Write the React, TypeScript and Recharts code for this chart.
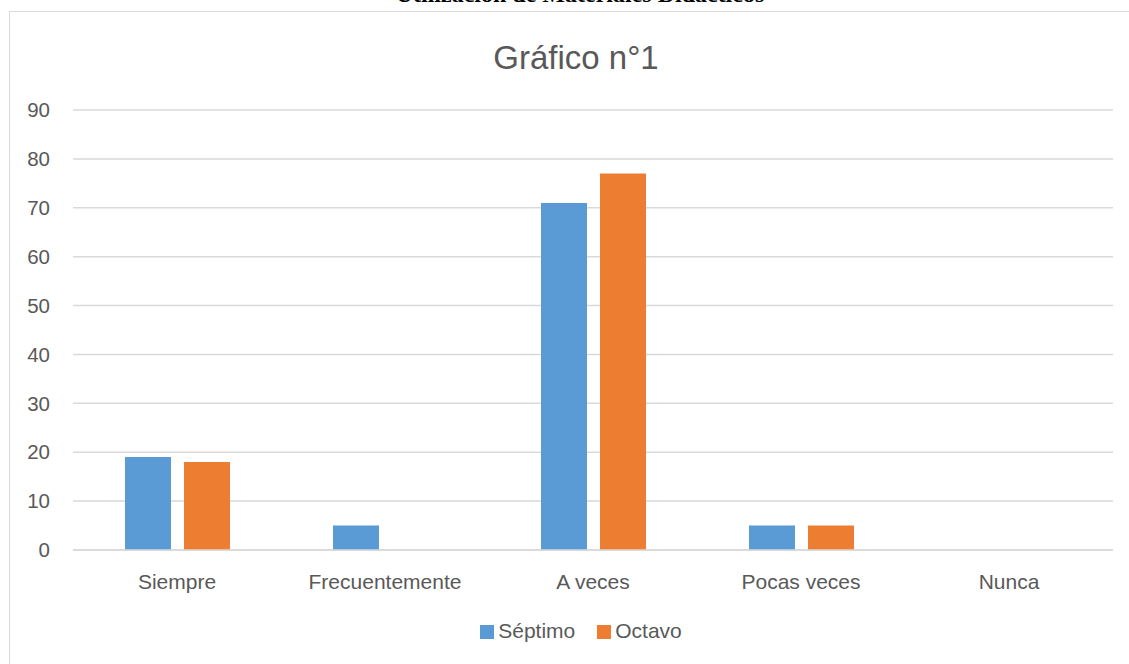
import { Bar, BarChart, CartesianGrid, Legend, XAxis, YAxis } from "recharts";

const categories = ["Siempre", "Frecuentemente", "A veces", "Pocas veces", "Nunca"];
const septimo = [19, 5, 71, 5, 0];
const octavo = [18, 0, 77, 5, 0];
const yTicks = [0, 10, 20, 30, 40, 50, 60, 70, 80, 90];

const data = categories.map((name, i) => ({
  name,
  septimo: septimo[i],
  octavo: octavo[i],
}));

const FONT = "'Liberation Sans', Arial, sans-serif";
const TEXT = "#595959";

export default function App() {
  return (
    <div
      style={{
        position: "absolute",
        left: 0,
        top: 0,
        width: 1129,
        height: 664,
        overflow: "hidden",
        background: "#fff",
      }}
    >
      {/* heading of the document page, cut off by the crop */}
      <div
        style={{
          position: "absolute",
          top: -20,
          left: 0,
          width: 1160,
          textAlign: "center",
          fontFamily: "'Liberation Serif', 'Times New Roman', serif",
          fontWeight: "bold",
          fontSize: 24,
          lineHeight: "28px",
        }}
      >
        Utilización de Materiales Didácticos
      </div>
      <div
        style={{
          position: "absolute",
          left: 9,
          top: 11,
          width: 1200,
          height: 700,
          border: "1px solid #d9d9d9",
        }}
      />
      <div
        style={{
          position: "absolute",
          top: 38,
          left: 0,
          width: 1152,
          textAlign: "center",
          fontFamily: FONT,
          fontSize: 33,
          lineHeight: "40px",
          color: TEXT,
        }}
      >
        Gráfico n°1
      </div>
      <div style={{ position: "absolute", left: 0, top: 0 }}>
        <BarChart
          width={1129}
          height={664}
          data={data}
          margin={{ top: 110, right: 16, bottom: 60, left: 0 }}
          barCategoryGap="25%"
          barGap={13}
        >
          <CartesianGrid vertical={false} stroke="#d9d9d9" strokeWidth={1.5} />
          <XAxis
            dataKey="name"
            axisLine={{ stroke: "#d9d9d9", strokeWidth: 1.5 }}
            tickLine={false}
            tickSize={0}
            tickMargin={24}
            tick={{ fill: TEXT, fontSize: 21, fontFamily: FONT }}
          />
          <YAxis
            width={73}
            domain={[0, 90]}
            ticks={yTicks}
            axisLine={false}
            tickLine={false}
            tickSize={0}
            tickMargin={23}
            tick={{ fill: TEXT, fontSize: 20.5, fontFamily: FONT }}
          />
          <Legend
            verticalAlign="bottom"
            iconType="square"
            iconSize={14}
            itemSorter={(item) => (item.dataKey === "septimo" ? 0 : 1)}
            wrapperStyle={{ left: 42, width: 1100, top: 619, fontFamily: FONT, fontSize: 21 }}
            formatter={(value) => (
              <span style={{ color: TEXT, marginRight: 12 }}>{value}</span>
            )}
          />
          <Bar dataKey="septimo" name="Séptimo" fill="#5b9bd5" isAnimationActive={false} />
          <Bar dataKey="octavo" name="Octavo" fill="#ed7d31" isAnimationActive={false} />
        </BarChart>
      </div>
    </div>
  );
}
